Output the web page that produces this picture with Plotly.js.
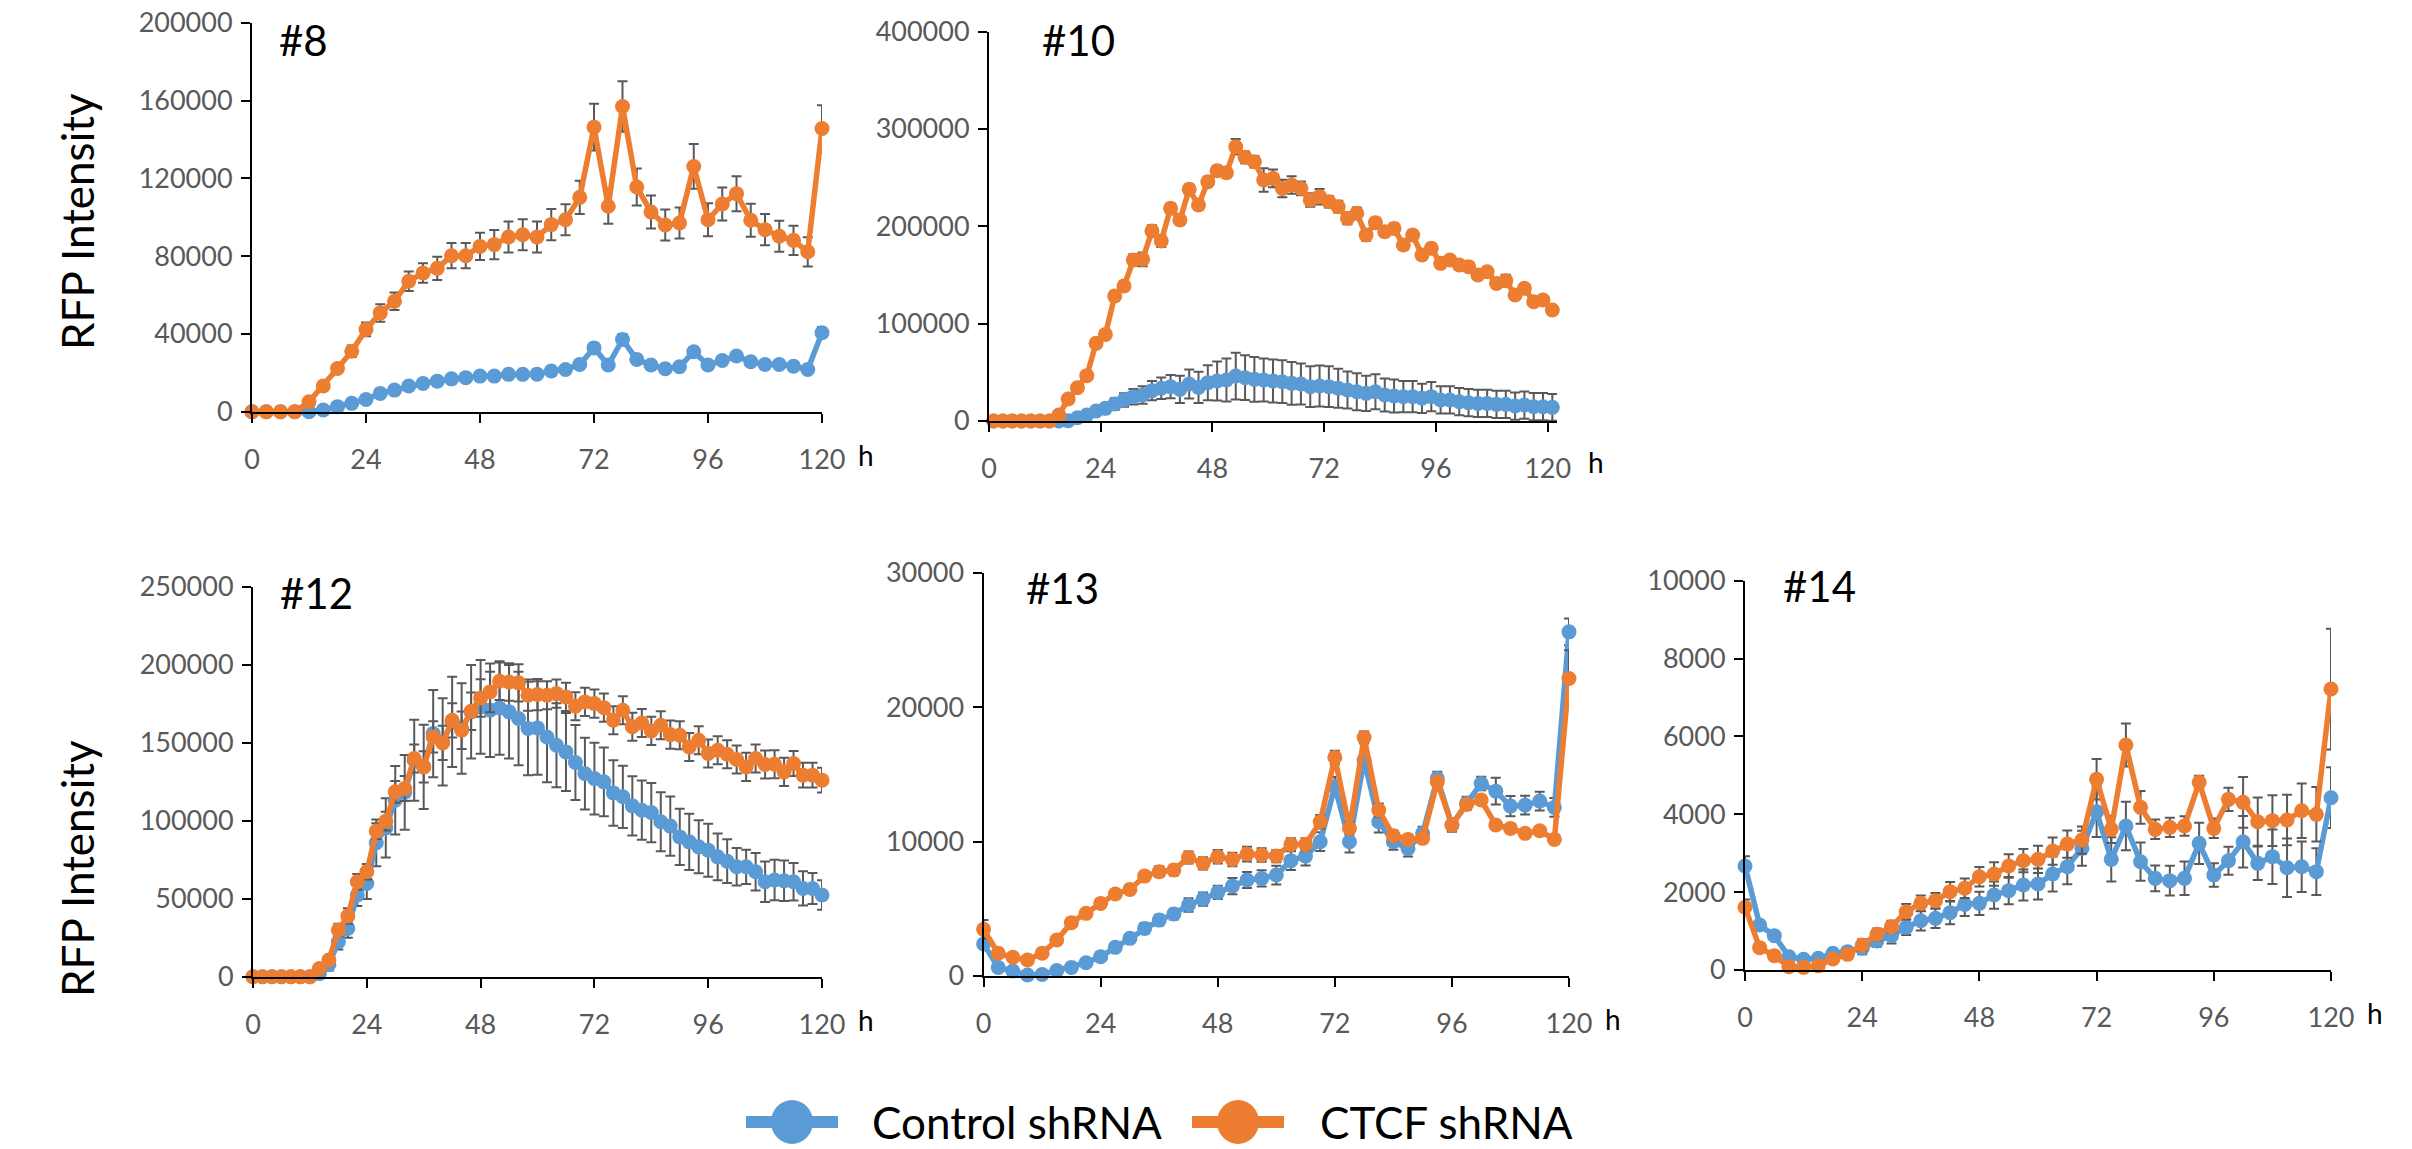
<!DOCTYPE html>
<html>
<head>
<meta charset="utf-8">
<script src="https://cdn.plot.ly/plotly-3.0.1.min.js"></script>
<style>html,body{margin:0;padding:0;background:#fff;}#chart{width:2412px;height:1149px;}</style>
</head>
<body>
<div id="chart"></div>
<script>
// ---------- time points ----------
const hours3 = [0,3,6,9,12,15,18,21,24,27,30,33,36,39,42,45,48,51,54,57,60,63,66,69,72,75,78,81,84,87,90,93,96,99,102,105,108,111,114,117,120];
const hours2 = [0,2,4,6,8,10,12,14,16,18,20,22,24,26,28,30,32,34,36,38,40,42,44,46,48,50,52,54,56,58,60,62,64,66,68,70,72,74,76,78,80,82,84,86,88,90,92,94,96,98,100,102,104,106,108,110,112,114,116,118,120];
const hoursOdd = [1,3,5,7,9,11,13,15,17,19,21,23,25,27,29,31,33,35,37,39,41,43,45,47,49,51,53,55,57,59,61,63,65,67,69,71,73,75,77,79,81,83,85,87,89,91,93,95,97,99,101,103,105,107,109,111,113,115,117,119,121];
const xTicks = [0,24,48,72,96,120];
const seriesNames = ["Control shRNA","CTCF shRNA"];
const panelLabels = ["#8","#10","#12","#13","#14"];

// ---------- #8 ----------
const ctrl8 = [0,0,0,0,0,900,2600,4300,6300,9400,11100,13200,14500,15700,16900,17500,18300,18300,19200,19200,19300,20900,21700,24300,32800,24000,37100,26900,24000,22100,23100,30800,24000,26300,28600,25700,24300,24300,23400,21700,40600];
const ctrl8Err = [200,200,200,200,300,400,500,600,800,900,1000,1100,1200,1200,1300,1300,1400,1400,1500,1500,1500,1600,1600,1800,2500,1800,2800,2000,1800,1700,1700,2300,1800,1900,2000,1900,1800,1800,1700,1600,3000];
const ctcf8 = [0,0,0,0,5100,13200,22200,31100,42300,50800,56800,67100,71300,73700,80200,80200,85000,85900,89800,91000,89800,96200,98700,110200,146300,105600,156900,115500,102700,96000,97000,126100,98700,106800,112100,98400,93600,90200,88100,82200,145600];
const ctcf8Err = [500,500,500,500,1000,1500,2000,3000,3500,4500,4500,5000,5000,6000,6500,6500,7000,7500,8000,8000,8000,8000,8000,8500,12000,9000,13000,9500,8500,8000,8000,11500,8500,8500,9000,8500,8000,8000,7500,7500,12000];

// ---------- #10 ----------
const ctrl10 = [0,0,0,0,0,0,0,0,300,3400,6200,10300,13000,17500,21600,25000,26700,31200,33600,35300,32500,38000,34600,39400,41100,42100,46200,44500,42800,42100,41100,40400,38700,38000,35300,36000,35300,33600,31800,30100,28400,30100,26700,25700,25000,25000,23300,25000,21600,21600,19900,18800,18100,18100,17100,17100,15400,16400,14700,14700,14000];
const ctrl10Err = [200,200,200,200,200,200,200,500,1000,2000,3000,4000,5000,6000,7000,8000,9000,10000,11000,12000,14000,15000,16000,18000,20000,22000,24000,23000,23000,22000,22000,22000,22000,21000,21000,21000,21000,20000,19000,19000,18000,18000,17000,17000,16000,16000,15000,15000,14000,14000,14000,14000,14000,14000,14000,14000,14000,14000,14000,14000,13700];
const ctcf10 = [0,0,0,0,0,0,0,6200,22600,34200,46600,79800,89000,128400,138700,165400,166100,195200,184900,218500,206500,238000,221900,245900,257200,255100,281800,270900,266400,247600,249300,239000,242500,239000,227100,230500,225300,220200,208200,213400,191100,203800,194500,197900,180800,191100,170500,177400,162000,165400,160300,158600,150000,153400,141400,144200,129500,136300,122600,124300,114000];
const ctcf10Err = [500,500,500,500,500,500,500,1000,2000,3000,3000,4000,4000,5000,5000,6000,7000,6000,6000,5000,5000,5000,5000,5000,5000,5000,8000,6000,6000,12000,9000,9000,9000,7000,7000,8000,6000,6000,6000,6000,6000,5000,5000,5000,5000,5000,5000,5000,4000,4000,4000,4000,4000,4000,4000,6000,4000,4000,4000,4000,4000];

// ---------- #12 ----------
const ctrl12 = [0,0,0,0,0,0,0,2000,7900,22400,31000,52400,59800,85900,95500,113200,118200,138900,134600,156000,150600,163500,159200,169900,173100,170900,172400,169900,165600,159200,159600,153800,148500,144200,137400,130300,127100,125000,117900,115400,109600,106800,105300,99400,96600,89700,86500,83300,81200,76900,74100,70500,70500,67300,60900,62000,61500,60900,56600,56600,52400];
const ctrl12Err = [500,500,500,500,500,500,500,2000,4000,5000,6000,7000,10000,15000,19000,22000,24000,26000,27000,28000,28000,29000,29000,30000,30000,30000,30000,30000,30000,30000,30000,29000,27000,25000,24000,23000,23000,22000,21000,20000,19000,19000,19000,19000,19000,18000,18000,17000,17000,15000,14000,12000,11000,12000,13000,13000,13000,12000,11000,10000,9500];
const ctcf12 = [0,0,0,0,0,0,0,5300,10700,29900,38900,60900,67300,93400,99800,118600,120700,140000,134600,153800,150000,164500,158100,170300,178800,182700,189500,189100,188500,180600,181000,180600,181600,179500,173500,176300,175200,172600,164500,170900,160300,162800,157700,161300,155300,154900,147400,151700,143200,145300,142700,139300,134600,140000,136100,136300,131400,136800,129300,129300,126100];
const ctcf12Err = [500,500,500,500,500,500,500,1500,2500,4000,5000,5000,5000,5000,6000,7000,8000,9000,10000,10000,11000,11000,12000,12000,12000,13000,12000,12000,12000,10000,10000,9000,9000,9000,9000,9000,9000,9000,9000,9000,9000,9000,9000,9000,9000,9000,9000,9000,9000,9000,9000,9000,9000,9000,9000,9000,9000,8000,8000,8000,8000];

// ---------- #13 ----------
const ctrl13 = [2380,640,370,70,120,400,640,990,1440,2130,2800,3540,4160,4610,5280,5720,6220,6690,7140,7260,7510,8580,8920,9990,14100,9990,16060,11470,9990,9490,10610,14700,11230,12840,14320,13750,12640,12710,13010,12540,25600];
const ctrl13Err = [300,200,200,200,200,200,200,200,300,300,300,400,400,400,500,500,500,600,600,600,700,700,700,700,700,800,600,800,600,600,500,500,500,500,500,1000,750,700,700,700,1000];
const ctcf13 = [3470,1690,1390,1190,1690,2680,3970,4660,5400,6100,6440,7430,7760,7880,8820,8380,8870,8670,9070,9000,8920,9790,9790,11470,16260,10980,17740,12340,10430,10160,10240,14450,11230,12760,13090,11230,10980,10610,10810,10160,22130];
const ctcf13Err = [700,300,300,300,300,300,300,300,300,300,350,350,400,400,450,450,500,500,550,500,450,450,450,500,500,450,450,500,400,350,350,350,300,300,300,300,300,300,300,350,2100];

// ---------- #14 ----------
const ctrl14 = [2671,1156,882,342,274,300,428,471,557,745,882,1096,1267,1327,1473,1687,1712,1926,2038,2183,2209,2466,2654,3125,4067,2842,3699,2782,2354,2295,2354,3253,2440,2808,3296,2740,2911,2628,2654,2526,4426];
const ctrl14Err = [250,100,100,100,100,100,100,100,150,150,200,200,250,250,300,300,300,350,350,400,400,450,450,450,650,570,620,490,330,380,430,530,300,360,660,430,700,750,650,600,780];
const ctcf14 = [1610,574,368,86,68,111,283,402,642,916,1113,1498,1712,1781,2012,2098,2397,2466,2671,2808,2842,3056,3236,3339,4897,3613,5779,4178,3613,3664,3699,4820,3639,4384,4307,3810,3836,3853,4092,3998,7217];
const ctcf14Err = [200,100,100,100,100,100,100,100,150,150,150,200,200,200,250,250,250,300,300,300,350,350,350,350,520,350,550,420,250,250,250,170,250,300,650,620,650,650,700,700,1550];

// ---------- figure building ----------
const W = 2412, H = 1149;
const BLUE = '#5B9BD5', ORANGE = '#ED7D31';
const FONT = 'Lato, "Open Sans", sans-serif';
const px = v => v / W;
const py = v => 1 - v / H;

const panels = [
  {x: hours3,   c: ctrl8,  ce: ctrl8Err,  o: ctcf8,  oe: ctcf8Err,  xd: [252, 822],  yd: [411.7, 22.7], yr: [0, 200000], dy: 40000,  xr: [0,120],
   lab: [277, 40],  h: [866, 455]},
  {x: hoursOdd, c: ctrl10, ce: ctrl10Err, o: ctcf10, oe: ctcf10Err, xd: [989, 1557], yd: [421, 31.7],   yr: [0, 400000], dy: 100000, xr: [0,122],
   lab: [1040, 40], h: [1596, 462]},
  {x: hours2,   c: ctrl12, ce: ctrl12Err, o: ctcf12, oe: ctcf12Err, xd: [253, 822],  yd: [976.7, 587],  yr: [0, 250000], dy: 50000,  xr: [0,120],
   lab: [278, 593], h: [866, 1020]},
  {x: hours3,   c: ctrl13, ce: ctrl13Err, o: ctcf13, oe: ctcf13Err, xd: [983.6, 1569], yd: [976, 572.7], yr: [0, 30000], dy: 10000, xr: [0,120],
   lab: [1024, 588], h: [1613, 1019]},
  {x: hours3,   c: ctrl14, ce: ctrl14Err, o: ctcf14, oe: ctcf14Err, xd: [1745, 2331], yd: [970, 580.7], yr: [0, 10000], dy: 2000, xr: [0,120],
   lab: [1781, 586], h: [2375, 1013]}
];

const traces = [];
const layout = {
  width: W, height: H,
  margin: {l: 0, r: 0, t: 0, b: 0, pad: 0},
  paper_bgcolor: '#ffffff', plot_bgcolor: 'rgba(0,0,0,0)',
  showlegend: false,
  font: {family: FONT},
  annotations: [], shapes: []
};

panels.forEach((p, i) => {
  const n = i === 0 ? '' : String(i + 1);
  const xa = 'x' + n, ya = 'y' + n;
  const common = {
    type: 'scatter', mode: 'lines+markers', xaxis: xa, yaxis: ya, cliponaxis: false,
    hoverinfo: 'skip'
  };
  [[p.c, p.ce, BLUE, seriesNames[0]], [p.o, p.oe, ORANGE, seriesNames[1]]].forEach(s => {
    traces.push(Object.assign({}, common, {
      x: p.x, y: s[0], name: s[3],
      line: {color: s[2], width: 5.5},
      marker: {color: s[2], size: 15},
      error_y: {type: 'data', array: s[1], visible: true, color: '#595959', thickness: 2, width: 5}
    }));
  });
  layout['xaxis' + n] = {
    domain: [px(p.xd[0]), px(p.xd[1])], anchor: ya, range: p.xr,
    tickvals: xTicks, ticktext: xTicks.map(String),
    showline: true, linecolor: '#000', linewidth: 2,
    ticks: 'outside', ticklen: 9, tickwidth: 2, tickcolor: '#000',
    ticklabelstandoff: 14,
    showgrid: false, zeroline: false,
    tickfont: {family: FONT, size: 27, color: '#595959'}
  };
  layout['yaxis' + n] = {
    domain: [py(p.yd[0]), py(p.yd[1])], anchor: xa, range: p.yr,
    tick0: 0, dtick: p.dy, tickformat: 'd',
    showline: true, linecolor: '#000', linewidth: 2,
    ticks: 'outside', ticklen: 9, tickwidth: 2, tickcolor: '#000',
    ticklabelstandoff: 3,
    showgrid: false, zeroline: false,
    tickfont: {family: FONT, size: 27, color: '#595959'}
  };
  layout.annotations.push({
    xref: 'paper', yref: 'paper', x: px(p.lab[0]), y: py(p.lab[1]),
    xanchor: 'left', yanchor: 'middle', showarrow: false,
    text: panelLabels[i], font: {family: FONT, size: 42, color: '#000'}
  });
  layout.annotations.push({
    xref: 'paper', yref: 'paper', x: px(p.h[0]), y: py(p.h[1]),
    xanchor: 'center', yanchor: 'middle', showarrow: false,
    text: 'h', font: {family: FONT, size: 28, color: '#000'}
  });
});

// y-axis titles
[222, 869].forEach(yc => {
  layout.annotations.push({
    xref: 'paper', yref: 'paper', x: px(77), y: py(yc),
    xanchor: 'center', yanchor: 'middle', showarrow: false, textangle: -90,
    text: 'RFP Intensity', font: {family: FONT, size: 44, color: '#000'}
  });
});

// legend (drawn as shapes + text)
const legendItems = [
  {name: seriesNames[0], color: BLUE,   x0: 746,  x1: 838,  cx: 792,  tx: 870},
  {name: seriesNames[1], color: ORANGE, x0: 1192, x1: 1284, cx: 1238, tx: 1318}
];
const ly = 1122;
legendItems.forEach(it => {
  layout.shapes.push({type: 'line', xref: 'paper', yref: 'paper',
    x0: px(it.x0), x1: px(it.x1), y0: py(ly), y1: py(ly),
    line: {color: it.color, width: 12}});
  layout.shapes.push({type: 'circle', xref: 'paper', yref: 'paper',
    x0: px(it.cx - 21), x1: px(it.cx + 21), y0: py(ly + 22), y1: py(ly - 22),
    fillcolor: it.color, line: {color: it.color, width: 0}});
  layout.annotations.push({
    xref: 'paper', yref: 'paper', x: px(it.tx), y: py(ly),
    xanchor: 'left', yanchor: 'middle', showarrow: false,
    text: it.name, font: {family: FONT, size: 44, color: '#000'}
  });
});

Plotly.newPlot('chart', traces, layout, {displayModeBar: false, staticPlot: true});
</script>
</body>
</html>
